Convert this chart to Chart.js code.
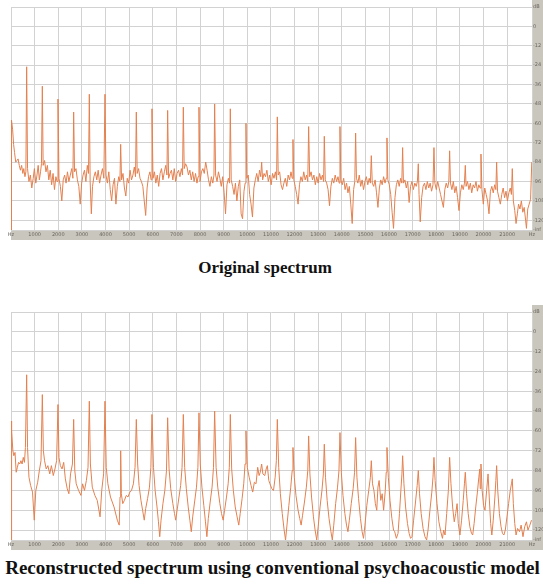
<!DOCTYPE html>
<html lang="en">
<head>
  <meta charset="UTF-8" />
  <title>Original vs reconstructed spectrum</title>
  <style>
    body {
      margin: 0;
      background: #fff;
      width: 543px;
      height: 585px;
      position: relative;
      overflow: hidden;
    }
    .panel { position: absolute; left: 0; width: 543px; }
    #topPanel { top: 0; height: 240px; }
    #bottomPanel { top: 305px; height: 245px; }
    .caption {
      position: absolute;
      left: 0;
      text-align: center;
      font-family: 'Liberation Serif', 'Times New Roman', serif;
      font-weight: bold;
      color: #111;
      white-space: nowrap;
      line-height: 1;
    }
    #cap1 { top: 259px; width: 530px; font-size: 17px; }
    #cap2 { top: 558px; width: 545px; font-size: 19px; }
  </style>
</head>
<body>
  <div class="panel" id="topPanel"><canvas id="origChart"></canvas></div>
  <div class="caption" id="cap1">Original spectrum</div>
  <div class="panel" id="bottomPanel"><canvas id="reconChart"></canvas></div>
  <div class="caption" id="cap2">Reconstructed spectrum using conventional psychoacoustic model</div>

  <script src="https://cdn.jsdelivr.net/npm/chart.js"></script>
  <script>
    // axis ticks
    const hzTicks = [0, 1000, 2000, 3000, 4000, 5000, 6000, 7000, 8000, 9000, 10000, 11000,
      12000, 13000, 14000, 15000, 16000, 17000, 18000, 19000, 20000, 21000, 22050];
    const hzLabels = ['Hz', '1000', '2000', '3000', '4000', '5000', '6000', '7000', '8000', '9000', '10000', '11000',
      '12000', '13000', '14000', '15000', '16000', '17000', '18000', '19000', '20000', '21000', 'Hz'];
    const dbTicks = [12, 0, -12, -24, -36, -48, -60, -72, -84, -96, -108, -120, -126];
    const dbLabels = ['dB', '0', '-12', '-24', '-36', '-48', '-60', '-72', '-84', '-96', '-108', '-120', '-inf'];

    // original spectrum (Hz / dB), one line per harmonic interval, peak last
    const origHz = [
      0, 12, 30, 70, 110, 150, 200, 250, 300, 350, 400, 450, 500, 540, 590, 630, 663,
      700, 760, 820, 880, 940, 990, 1050, 1100, 1150, 1200, 1250, 1290, 1326,
      1360, 1420, 1480, 1540, 1600, 1660, 1720, 1780, 1840, 1900, 1950, 1989,
      2030, 2090, 2150, 2210, 2270, 2330, 2390, 2450, 2510, 2570, 2620, 2652,
      2690, 2750, 2810, 2870, 2930, 2990, 3050, 3110, 3170, 3230, 3280, 3315,
      3350, 3400, 3450, 3510, 3570, 3630, 3690, 3750, 3810, 3870, 3930, 3978,
      4020, 4080, 4140, 4200, 4260, 4320, 4380, 4440, 4500, 4560, 4610, 4641,
      4680, 4740, 4800, 4860, 4920, 4980, 5040, 5100, 5160, 5220, 5270, 5304,
      5340, 5400, 5460, 5520, 5580, 5640, 5700, 5760, 5820, 5880, 5930, 5967,
      6010, 6070, 6130, 6190, 6250, 6310, 6370, 6430, 6490, 6550, 6600, 6630,
      6670, 6730, 6790, 6850, 6910, 6970, 7030, 7090, 7150, 7210, 7260, 7293,
      7330, 7390, 7450, 7510, 7570, 7630, 7690, 7750, 7810, 7870, 7920, 7956,
      8000, 8060, 8120, 8180, 8240, 8300, 8360, 8420, 8480, 8540, 8590, 8619,
      8660, 8720, 8780, 8840, 8900, 8960, 9020, 9080, 9140, 9200, 9250, 9282,
      9320, 9380, 9440, 9500, 9560, 9620, 9680, 9740, 9800, 9860, 9910, 9945,
      9980, 10040, 10100, 10160, 10220, 10280, 10340, 10400, 10460, 10520, 10570, 10608,
      10650, 10710, 10770, 10830, 10890, 10950, 11010, 11070, 11130, 11190, 11240, 11271,
      11310, 11370, 11430, 11490, 11550, 11610, 11670, 11730, 11790, 11850, 11900, 11934,
      11970, 12030, 12090, 12150, 12210, 12270, 12330, 12390, 12450, 12510, 12560, 12597,
      12640, 12700, 12760, 12820, 12880, 12940, 13000, 13060, 13120, 13180, 13230, 13260,
      13300, 13360, 13420, 13480, 13540, 13600, 13660, 13720, 13780, 13840, 13890, 13923,
      13960, 14020, 14080, 14140, 14200, 14260, 14320, 14380, 14440, 14500, 14550, 14586,
      14620, 14680, 14740, 14800, 14860, 14920, 14980, 15040, 15100, 15160, 15210, 15249,
      15290, 15350, 15410, 15470, 15530, 15590, 15650, 15710, 15770, 15830, 15880, 15912,
      15950, 16010, 16070, 16130, 16190, 16250, 16310, 16370, 16430, 16490, 16540, 16575,
      16610, 16670, 16730, 16790, 16850, 16910, 16970, 17030, 17090, 17150, 17200, 17238,
      17270, 17320, 17380, 17440, 17500, 17560, 17620, 17680, 17740, 17800, 17860, 17901,
      17940, 18000, 18060, 18120, 18180, 18240, 18300, 18360, 18420, 18480, 18530, 18564,
      18600, 18660, 18720, 18780, 18840, 18900, 18960, 19020, 19080, 19140, 19190, 19227,
      19260, 19320, 19380, 19440, 19500, 19560, 19620, 19680, 19740, 19800, 19850, 19890,
      19930, 19990, 20050, 20110, 20170, 20230, 20290, 20350, 20410, 20470, 20520, 20553,
      20590, 20650, 20710, 20770, 20830, 20890, 20950, 21010, 21070, 21130, 21180, 21216,
      21260, 21320, 21375, 21430, 21480, 21540, 21600, 21660, 21720, 21780, 21815, 21870, 21930, 21990, 22040
    ];
    const origDb = [
      -126, -100, -58, -64, -73, -78, -84, -83, -82, -86, -89, -86, -91, -88, -93, -90, -25,
      -88, -96, -92, -100, -94, -88, -97, -92, -86, -95, -90, -85, -37,
      -86, -83, -90, -86, -95, -89, -98, -91, -101, -93, -96, -45,
      -94, -99, -108, -95, -92, -97, -90, -96, -92, -88, -94, -53,
      -90, -88, -95, -99, -110, -97, -92, -89, -96, -86, -91, -42,
      -96, -116, -99, -93, -90, -95, -89, -97, -92, -88, -94, -42,
      -92, -97, -90, -101, -108, -98, -94, -110, -99, -93, -96, -73,
      -95, -91, -100, -105, -94, -97, -89, -95, -92, -87, -93, -53,
      -91, -88, -94, -96, -99, -108, -117, -100, -93, -90, -95, -51,
      -94, -90, -97, -92, -99, -91, -88, -95, -90, -86, -92, -52,
      -94, -91, -89, -95, -88, -96, -91, -89, -93, -88, -92, -50,
      -88, -85, -87, -92, -89, -95, -90, -96, -91, -97, -93, -50,
      -96, -90, -88, -91, -84, -89, -95, -99, -93, -97, -92, -48,
      -92, -96, -90, -94, -99, -93, -103, -116, -98, -94, -97, -51,
      -95, -99, -104, -97, -108, -99, -95, -116, -119, -102, -97, -60,
      -94, -92, -104, -110, -118, -100, -95, -91, -96, -89, -93, -84,
      -95, -91, -93, -89, -96, -92, -98, -91, -94, -90, -95, -56,
      -92, -90, -98, -101, -97, -94, -99, -92, -95, -90, -94, -70,
      -95, -99, -104, -110, -98, -93, -96, -90, -95, -92, -96, -62,
      -93, -90, -95, -92, -98, -93, -97, -91, -95, -92, -96, -68,
      -95, -97, -101, -111, -99, -94, -97, -92, -96, -93, -97, -62,
      -95, -98, -94, -101, -97, -103, -99, -110, -122, -101, -96, -66,
      -94, -97, -92, -99, -95, -101, -96, -93, -98, -94, -97, -80,
      -97, -99, -95, -103, -112, -100, -95, -98, -93, -97, -94, -69,
      -95, -98, -104, -115, -125, -106, -98, -95, -99, -94, -97, -75,
      -97, -95, -100, -96, -109, -99, -96, -101, -97, -99, -96, -85,
      -104, -121, -106, -99, -97, -101, -96, -100, -97, -102, -98, -75,
      -97, -101, -96, -100, -104, -108, -112, -101, -97, -100, -96, -77,
      -97, -101, -96, -103, -99, -106, -114, -103, -98, -101, -97, -86,
      -99, -96, -101, -97, -103, -98, -100, -96, -102, -98, -100, -79,
      -101, -110, -100, -104, -108, -116, -102, -99, -103, -98, -101, -84,
      -102, -106, -110, -104, -100, -106, -102, -108, -103, -100, -104, -88,
      -108, -114, -122, -116, -110, -113, -108, -115, -112, -120, -125, -113, -110, -107, -84
    ];

    // reconstructed spectrum (Hz / dB)
    const reconHz = [
      0, 10, 40, 80, 120, 170, 220, 270, 320, 370, 420, 470, 520, 570, 610, 663,
      700, 760, 830, 910, 984, 1050, 1130, 1200, 1270, 1326,
      1370, 1420, 1490, 1560, 1640, 1710, 1790, 1860, 1930, 1989,
      2030, 2090, 2160, 2230, 2300, 2380, 2450, 2520, 2600, 2652,
      2700, 2760, 2860, 2960, 3030, 3110, 3190, 3260, 3315,
      3360, 3440, 3550, 3650, 3770, 3840, 3920, 3978,
      4030, 4100, 4210, 4360, 4500, 4580, 4615, 4641,
      4670, 4730, 4800, 4880, 4950, 5030, 5100, 5180, 5250, 5304,
      5360, 5420, 5500, 5570, 5640, 5700, 5780, 5860, 5920, 5967,
      6030, 6100, 6180, 6240, 6295, 6350, 6430, 6510, 6580, 6630,
      6690, 6760, 6850, 6920, 6970, 7030, 7110, 7180, 7240, 7293,
      7350, 7420, 7500, 7570, 7630, 7690, 7770, 7850, 7910, 7956,
      8010, 8080, 8160, 8230, 8290, 8350, 8430, 8510, 8570, 8619,
      8680, 8750, 8840, 8910, 8980, 9040, 9120, 9190, 9240, 9282,
      9340, 9410, 9490, 9570, 9640, 9700, 9780, 9850, 9905, 9945,
      10000, 10080, 10160, 10230, 10300, 10370, 10440, 10500, 10550, 10608,
      10660, 10740, 10800, 10850, 10910, 10960, 11040, 11110, 11180, 11230, 11271,
      11330, 11400, 11480, 11560, 11620, 11680, 11760, 11840, 11900, 11934,
      11990, 12060, 12150, 12220, 12280, 12340, 12420, 12500, 12560, 12597,
      12650, 12720, 12800, 12870, 12940, 13000, 13080, 13160, 13220, 13260,
      13310, 13380, 13460, 13540, 13600, 13660, 13740, 13820, 13880, 13923,
      13980, 14050, 14130, 14200, 14260, 14320, 14400, 14480, 14540, 14586,
      14640, 14710, 14790, 14860, 14920, 14980, 15060, 15140, 15210, 15249,
      15300, 15360, 15420, 15480, 15530, 15580, 15650, 15710, 15770, 15840, 15880, 15912,
      15970, 16040, 16120, 16190, 16240, 16310, 16380, 16440, 16500, 16545, 16575,
      16630, 16700, 16780, 16850, 16910, 16970, 17040, 17120, 17190, 17238,
      17290, 17360, 17440, 17520, 17590, 17650, 17730, 17810, 17860, 17901,
      17950, 18030, 18110, 18190, 18260, 18310, 18370, 18440, 18510, 18564,
      18620, 18690, 18760, 18820, 18880, 18930, 19000, 19070, 19140, 19190, 19227,
      19280, 19350, 19420, 19490, 19540, 19600, 19670, 19740, 19800, 19840, 19860, 19890,
      19940, 20000, 20060, 20130, 20190, 20240, 20300, 20350, 20410, 20480, 20520, 20553,
      20600, 20670, 20740, 20800, 20860, 20920, 20990, 21060, 21130, 21180, 21216,
      21260, 21320, 21375, 21440, 21522, 21590, 21669, 21740, 21815, 21880, 21960, 22030
    ];
    const reconDb = [
      -126, -54, -60, -72, -75, -73, -85, -82, -79, -80, -78, -80, -76, -79, -70, -26,
      -70, -88, -93, -97, -114, -96, -91, -84, -78, -38,
      -72, -78, -83, -81, -86, -81, -87, -83, -78, -44,
      -76, -81, -83, -79, -89, -95, -98, -86, -80, -53,
      -84, -92, -96, -99, -92, -96, -90, -82, -42,
      -80, -94, -99, -102, -112, -96, -86, -42,
      -82, -92, -100, -106, -114, -117, -100, -72,
      -98, -104, -102, -99, -100, -97, -96, -92, -82, -53,
      -80, -93, -102, -108, -114, -107, -101, -94, -82, -50,
      -82, -96, -106, -115, -124, -114, -104, -96, -84, -52,
      -83, -95, -104, -110, -114, -108, -100, -93, -82, -50,
      -82, -95, -106, -114, -121, -112, -103, -94, -82, -49,
      -80, -94, -105, -115, -124, -113, -103, -94, -82, -48,
      -82, -94, -104, -110, -114, -108, -100, -92, -82, -50,
      -83, -96, -106, -112, -117, -110, -101, -92, -80, -60,
      -82, -88, -93, -97, -91, -92, -82, -87, -85, -80,
      -86, -87, -83, -81, -90, -92, -95, -96, -88, -78, -53,
      -82, -98, -110, -120, -126, -117, -105, -94, -84, -70,
      -88, -99, -108, -113, -117, -111, -103, -94, -84, -63,
      -86, -100, -112, -120, -126, -118, -106, -96, -86, -68,
      -88, -102, -113, -121, -126, -117, -104, -94, -84, -61,
      -85, -99, -110, -117, -121, -114, -104, -95, -85, -64,
      -88, -101, -113, -121, -125, -117, -105, -96, -88, -78,
      -92, -96, -104, -108, -94, -90, -102, -98, -108, -96, -85, -70,
      -88, -102, -113, -120, -121, -125, -122, -110, -96, -86, -75,
      -92, -106, -116, -122, -125, -124, -114, -103, -93, -84,
      -98, -110, -119, -124, -126, -120, -108, -97, -88, -76,
      -90, -104, -115, -121, -125, -120, -123, -110, -96, -76,
      -92, -106, -115, -110, -104, -116, -123, -114, -102, -92, -85,
      -98, -110, -118, -122, -123, -116, -106, -97, -88, -83, -95, -80,
      -96, -105, -108, -96, -86, -100, -116, -123, -114, -100, -90, -81,
      -96, -110, -118, -122, -123, -120, -112, -104, -96, -92, -89,
      -104, -116, -123, -119, -121, -117, -124, -118, -115, -120, -117, -114
    ];

    const LINE = '#e4804f';
    const GRID = '#d2d2d2';
    const STRIP = '#c9c6be';
    const TICK = '#6a665e';

    // grey label strips on the right and bottom, like the analyser window
    const stripPlugin = {
      id: 'strips',
      beforeDraw(chart) {
        const { ctx, chartArea: a, width } = chart;
        ctx.save();
        ctx.fillStyle = STRIP;
        ctx.fillRect(a.right, 0, width - a.right, a.bottom + 10);
        ctx.fillRect(a.left, a.bottom, width - a.left, 10);
        ctx.restore();
      }
    };

    function makeChart(id, hz, db) {
      const points = hz.map((f, i) => ({ x: f, y: db[i] }));
      return new Chart(document.getElementById(id), {
        type: 'line',
        data: {
          datasets: [{
            data: points,
            borderColor: LINE,
            borderWidth: 1,
            pointRadius: 0,
            tension: 0,
            fill: false
          }]
        },
        options: {
          responsive: true,
          maintainAspectRatio: false,
          animation: false,
          layout: { padding: { top: 7, left: 11, right: 0, bottom: 0 } },
          plugins: { legend: { display: false }, tooltip: { enabled: false } },
          scales: {
            x: {
              type: 'linear',
              min: 0,
              max: 22050,
              afterBuildTicks: s => { s.ticks = hzTicks.map(v => ({ value: v })); },
              afterFit: s => { s.height = 10; },
              ticks: {
                autoSkip: false,
                maxRotation: 0,
                padding: 2,
                color: TICK,
                font: { family: 'DejaVu Sans', size: 5 },
                callback: (v, i) => hzLabels[i]
              },
              grid: { color: GRID, drawTicks: false },
              border: { display: false }
            },
            y: {
              position: 'right',
              min: -126,
              max: 12,
              afterBuildTicks: s => { s.ticks = dbTicks.map(v => ({ value: v })); },
              afterFit: s => { s.width = 11; },
              ticks: {
                autoSkip: false,
                padding: 1,
                color: TICK,
                font: { family: 'DejaVu Sans', size: 5 },
                callback: (v, i) => dbLabels[i]
              },
              grid: { color: GRID, drawTicks: false },
              border: { display: false }
            }
          }
        },
        plugins: [stripPlugin]
      });
    }

    makeChart('origChart', origHz, origDb);
    makeChart('reconChart', reconHz, reconDb);
  </script>
</body>
</html>
